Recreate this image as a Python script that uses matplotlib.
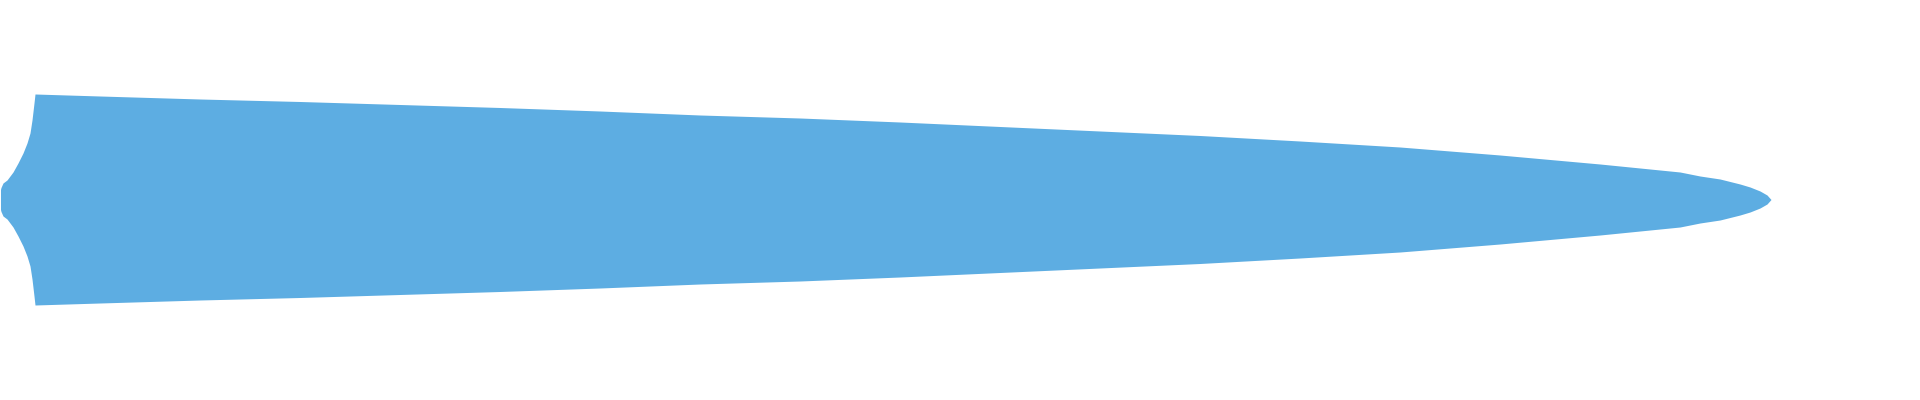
import numpy as np
import matplotlib
matplotlib.use("Agg")
import matplotlib.pyplot as plt

# horizontal violin-like shape: position along the value axis and half width
positions = [0.5, 1, 3, 7, 13, 18, 23, 27, 30, 32, 34, 35,
             100, 200, 300, 400, 500, 600, 700, 800, 900, 1000,
             1100, 1200, 1300, 1400, 1500, 1600, 1680, 1700, 1720,
             1740, 1750, 1760, 1767, 1771]
half_width = [10, 12, 16.5, 19.5, 27.5, 36.5, 46.5, 56.5, 66.5, 79.5, 96.5, 105.5,
              103.5, 100.5, 98, 95, 92, 88.5, 84.5, 81.5, 77.5, 73,
              68.5, 64, 58.5, 52.5, 44.5, 35.5, 27.5, 23.5, 20.5,
              15.5, 12.5, 8.5, 4.5, 0]

fill_color = "#5DADE2"


def main():
    x = np.array(positions)
    w = np.array(half_width)

    fig = plt.figure(figsize=(19.2, 4), dpi=100)
    ax = fig.add_axes([0, 0, 1, 1])
    ax.fill_between(x, -w, w, color=fill_color, linewidth=0)

    ax.set_xlim(0, 1920)
    ax.set_ylim(-200.5, 199.5)
    ax.axis("off")

    fig.savefig("out.png", dpi=100)


if __name__ == "__main__":
    main()
